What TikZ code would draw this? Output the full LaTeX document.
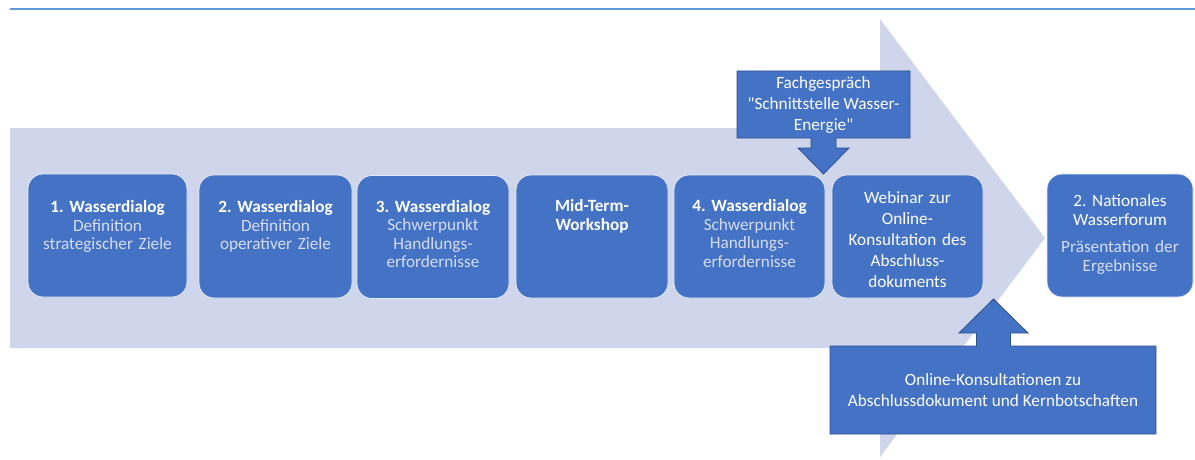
\documentclass[tikz,border=0pt]{standalone}
\usepackage{fontspec}
\setmainfont{Carlito}[Ligatures=TeXOff]
\usepackage{tikz}
\usetikzlibrary{positioning}

\definecolor{stageblue}{HTML}{4472C4}
\definecolor{arrowfill}{HTML}{CFD5EA}
\definecolor{rulecol}{HTML}{5B9BD5}
\definecolor{subtext}{HTML}{D6DDF0}
\definecolor{calloutedge}{HTML}{2F528F}

\tikzset{
  stage/.style={draw=white!85!stageblue, line width=0.8pt, fill=stageblue,
    rounded corners=15pt, minimum height=123pt, inner sep=0pt},
  stagetext/.style={text=white, text width=150pt, align=center, inner sep=0pt,
    font=\fontsize{17.2}{18.4}\selectfont},
  callout/.style={draw=calloutedge, line width=0.8pt, fill=stageblue},
  callouttext/.style={text=white, align=center, inner sep=0pt,
    font=\fontsize{17.2}{21}\selectfont}
}
\frenchspacing

\begin{document}
\begin{tikzpicture}[x=1pt,y=-1pt]
\useasboundingbox (0,0) rectangle (1195,460);

% Rule at the top
\draw[rulecol, line width=1.6pt] (10,9) -- (1195,9);

% Big timeline arrow
\fill[arrowfill] (10,128) -- (880,128) -- (880,19) -- (1045,238)
  -- (880,457) -- (880,348) -- (10,348) -- cycle;

% Stages
\node[stage, minimum width=159pt] (d1) at (107.5,235.5) {};
\node[stage, minimum width=153pt] (d2) at (275.5,236.5) {};
\node[stage, minimum width=152pt] (d3) at (433,237) {};
\node[stage, minimum width=152pt] (d4) at (592,236.5) {};
\node[stage, minimum width=151pt] (d5) at (749.5,236.5) {};
\node[stage, minimum width=151pt] (d6) at (907.5,236.5) {};
\node[stage, minimum width=146pt] (d7) at (1120,235.5) {};

\node[stagetext, below=27pt of d1.north] (d1t)
  {\textbf{1. Wasserdialog}\\{\color{subtext}Definition\\strategischer Ziele}};
\node[stagetext, below=26pt of d2.north] (d2t)
  {\textbf{2. Wasserdialog}\\{\color{subtext}Definition\\operativer Ziele}};
\node[stagetext, below=25pt of d3.north] (d3t)
  {\textbf{3. Wasserdialog}\\{\color{subtext}Schwerpunkt\\Handlungs-\\erfordernisse}};
\node[stagetext, below=25pt of d4.north] (d4t)
  {\textbf{Mid-Term-\\Workshop}};
\node[stagetext, below=25pt of d5.north] (d5t)
  {\textbf{4. Wasserdialog}\\{\color{subtext}Schwerpunkt\\Handlungs-\\erfordernisse}};
\node[stagetext, font=\fontsize{17.2}{21}\selectfont, yshift=-3pt] (d6t) at (d6)
  {Webinar zur\\Online-\\Konsultation des\\Abschluss-\\dokuments};
\node[stagetext, yshift=1pt] (d7t) at (d7)
  {2. Nationales\\Wasserforum\\[9pt]{\color{subtext}Präsentation der\\Ergebnisse}};

% Callout above: expert talk
\filldraw[callout] (737,71) -- (910,71) -- (910,138) -- (836,138) -- (836,148)
  -- (849,148) -- (823.5,174) -- (798,148) -- (811,148) -- (811,138)
  -- (737,138) -- cycle;
\node[callouttext] (fg) at (823.5,105.5)
  {Fachgespräch\\"Schnittstelle Wasser-\\Energie"};

% Callout below: online consultations
\filldraw[callout] (830,434) -- (830,346) -- (976.5,346) -- (976.5,333)
  -- (959,333) -- (993.5,299) -- (1028,333) -- (1010.5,333) -- (1010.5,346)
  -- (1156,346) -- (1156,434) -- cycle;
\node[callouttext] (ok) at (993,390.5)
  {Online-Konsultationen zu\\Abschlussdokument und Kernbotschaften};
\end{tikzpicture}
\end{document}
